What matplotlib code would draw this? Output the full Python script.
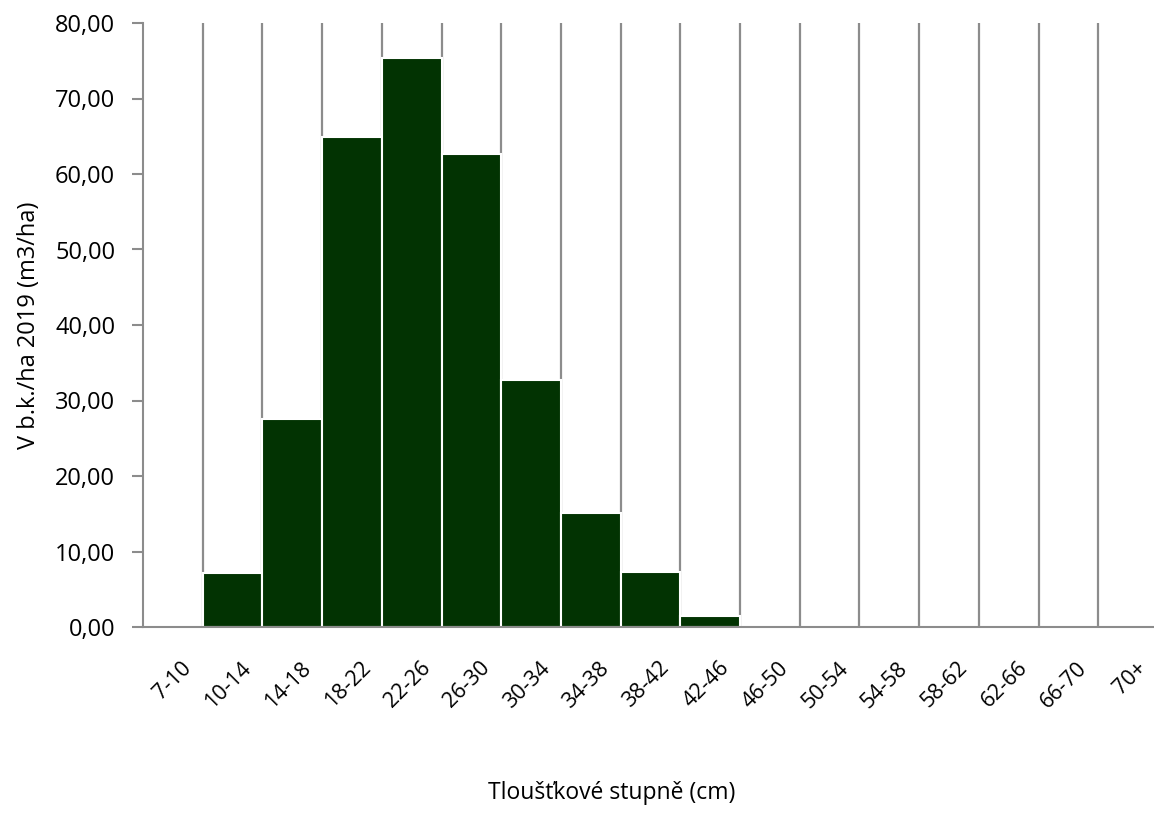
import numpy as np
import matplotlib.pyplot as plt
import matplotlib.transforms as mtransforms

plt.rcParams['font.family'] = ['Open Sans', 'DejaVu Sans']

categories = ['7-10', '10-14', '14-18', '18-22', '22-26', '26-30', '30-34', '34-38', '38-42',
              '42-46', '46-50', '50-54', '54-58', '58-62', '62-66', '66-70', '70+']
volumes = [0.0, 7.1, 27.5, 64.9, 75.4, 62.6, 32.7, 15.1, 7.3, 1.5, 0, 0, 0, 0, 0, 0, 0]
y_ticks = [0, 10, 20, 30, 40, 50, 60, 70, 80]

fig = plt.figure(figsize=(11.54, 8.33), dpi=100)
ax = fig.add_axes([143 / 1154, (833 - 627) / 833, (1158 - 143) / 1154, (627 - 23) / 833])

x = np.arange(len(categories))

# svisle cary mezi kategoriemi
for b in x[:-1] + 0.5:
    ax.axvline(b, color='#8c8c8c', lw=1.6, zorder=1)

ax.bar(x, volumes, width=1.0, color='#023302', edgecolor='white', linewidth=1.5, zorder=2)

ax.set_xlim(-0.5, len(categories) - 0.5)
ax.set_ylim(0, 80)
ax.set_yticks(y_ticks)
ax.set_yticklabels([f'{v:.2f}'.replace('.', ',') for v in y_ticks], fontsize=17)
ax.set_xticks(x)
ax.set_xticklabels(categories, fontsize=15.5, rotation=45, ha='right', rotation_mode='anchor')
ax.tick_params(axis='x', length=0, pad=22)
ax.tick_params(axis='y', length=8, width=1.5, color='#8c8c8c', pad=12)

# popisky posunout trochu doprava
shift = mtransforms.ScaledTranslation(8 / 100, 0, fig.dpi_scale_trans)
for lbl in ax.get_xticklabels():
    lbl.set_transform(lbl.get_transform() + shift)

for s in ['top', 'right']:
    ax.spines[s].set_visible(False)
for s in ['left', 'bottom']:
    ax.spines[s].set_color('#8c8c8c')
    ax.spines[s].set_linewidth(1.5)
    ax.spines[s].set_zorder(3)

ax.set_ylabel('V b.k./ha 2019 (m3/ha)', fontsize=17, labelpad=10)
fig.text(612 / 1154, 1 - 793 / 833, 'Tloušťkové stupně (cm)', fontsize=16.5, ha='center', va='center')

fig.savefig('out.png', dpi=100)
